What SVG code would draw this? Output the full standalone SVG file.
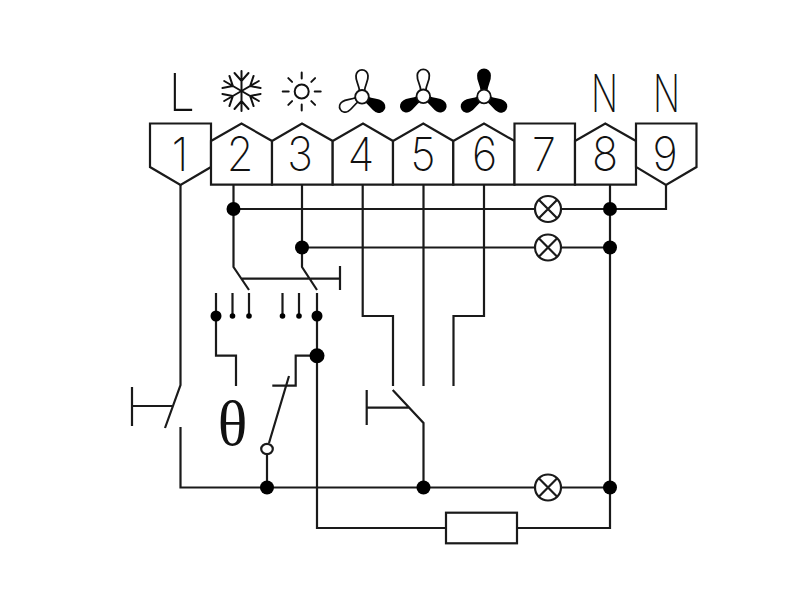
<svg xmlns="http://www.w3.org/2000/svg" xmlns:xlink="http://www.w3.org/1999/xlink" width="800" height="600" viewBox="0 0 800 600">
<style>
.w{fill:none;stroke:#1a1a1a;stroke-width:2.2;stroke-linejoin:miter}
.t{fill:#fff;stroke:#1a1a1a;stroke-width:2.2}
.d{fill:#000}
.o{fill:#fff;stroke:#1a1a1a;stroke-width:2.2}
.s{fill:none;stroke:#111;stroke-width:2;stroke-linecap:round}
.b{fill:#fff;stroke:#111;stroke-width:1.8}
.f{fill:#000;stroke:#000;stroke-width:1.8}
text{font-family:"Inter","Liberation Sans",sans-serif;font-weight:250;font-size:47px;fill:#111;text-anchor:middle}
</style>
<defs>
<path id="blade" d="M-2.5,-6C-3,-12 -6.5,-16 -6,-21A6,6 0 0 1 6,-21C6.5,-16 3,-12 2.5,-6Z"/>
<g id="arm"><path d="M0,0V-20M-7,-18L0,-10L7,-18"/></g>
<g id="lamp"><circle r="13" class="o"/><path class="w" d="M-9.2,-9.2L9.2,9.2M-9.2,9.2L9.2,-9.2"/></g>
</defs>

<g id="connectors" class="w">
<path d="M180.5,185V385L165,428M180.5,427V487.5H535M561,487.5H610M132,406H172M132,387V426"/>
<path d="M233.5,185V267L249,290M302,185V267L317,290M241,278.7H340M340,266V290"/>
<path d="M233.5,209H535M561,209H666V185M302,247.5H535M561,247.5H610"/>
<path d="M362.7,185V316H393V386M423.5,185V386M484,185V316H453.5V386"/>
<path d="M610,185V528H517M446,528H317V293"/>
<path d="M216,293V355.7H236V386M232.5,293V316M249,293V316M282.5,293V316M299,293V316"/>
<path d="M317,355.7H295.7V385.7H272.3M289,376L269,443M267,455V487.5"/>
<path d="M392.7,390L423.5,423V487.5M366.7,407.7H409M366.7,390V425"/>
</g>

<g id="junctions" class="d">
<circle cx="233.5" cy="209" r="7"/><circle cx="302" cy="247.5" r="7"/>
<circle cx="610" cy="209" r="7"/><circle cx="610" cy="247.5" r="7"/>
<circle cx="317" cy="355.7" r="7.5"/><circle cx="267" cy="487.5" r="7"/>
<circle cx="423.5" cy="487.5" r="7"/><circle cx="610" cy="487.5" r="7"/>
<circle cx="216" cy="316" r="5.5"/><circle cx="317" cy="316" r="5.5"/>
<circle cx="232.5" cy="316" r="2.8"/><circle cx="249" cy="316" r="2.8"/>
<circle cx="282.5" cy="316" r="2.8"/><circle cx="299" cy="316" r="2.8"/>
</g>

<g id="lamp1"><use xlink:href="#lamp" href="#lamp" x="548" y="209"/></g>
<g id="lamp2"><use xlink:href="#lamp" href="#lamp" x="548" y="247.5"/></g>
<g id="lamp3"><use xlink:href="#lamp" href="#lamp" x="548" y="487.5"/></g>
<g id="resistor"><rect class="o" x="446" y="512.7" width="71" height="30.6"/></g>
<g id="contact"><ellipse class="o" cx="267" cy="449" rx="5.8" ry="5.2"/></g>
<g id="theta"><text transform="translate(232.5 444.5) scale(.98 1)" style="font-family:'Liberation Serif',serif;font-weight:400;font-size:63px">θ</text></g>

<g id="term1"><path class="t" d="M150,123.5H211V167L180.5,185L150,167Z"/><text transform="translate(180 171) scale(.92 1)">1</text></g>
<g id="term2"><path class="t" d="M211,141L241.5,123.5L272,141V184.7H211Z"/><text transform="translate(240 171) scale(.92 1)">2</text></g>
<g id="term3"><path class="t" d="M272,141L302,123.5L332.7,141V184.7H272Z"/><text transform="translate(300 171) scale(.92 1)">3</text></g>
<g id="term4"><path class="t" d="M332.7,141L363,123.5L393,141V184.7H332.7Z"/><text transform="translate(361 171) scale(.92 1)">4</text></g>
<g id="term5"><path class="t" d="M393,141L423.3,123.5L453.3,141V184.7H393Z"/><text transform="translate(423 171) scale(.92 1)">5</text></g>
<g id="term6"><path class="t" d="M453.3,141L484,123.5L514.5,141V184.7H453.3Z"/><text transform="translate(484.5 171) scale(.92 1)">6</text></g>
<g id="term7"><path class="t" d="M514.5,123.5H575V184.7H514.5Z"/><text transform="translate(544 171) scale(.92 1)">7</text></g>
<g id="term8"><path class="t" d="M575,141L605.3,123.5L636,141V184.7H575Z"/><text transform="translate(605 171) scale(.92 1)">8</text></g>
<g id="term9"><path class="t" d="M636,123.5H696.5V167L666,185L636,167Z"/><text transform="translate(665 171) scale(.92 1)">9</text></g>

<g id="labelL"><text transform="translate(182 111) scale(.88 1)" style="font-size:52px">L</text></g>
<g id="labelN1"><text transform="translate(604.5 112) scale(.68 1)" style="font-size:52px">N</text></g>
<g id="labelN2"><text transform="translate(666.5 112) scale(.68 1)" style="font-size:52px">N</text></g>

<g id="snow" class="s" transform="translate(241.5 91)">
<use xlink:href="#arm" href="#arm"/><use xlink:href="#arm" href="#arm" transform="rotate(60)"/><use xlink:href="#arm" href="#arm" transform="rotate(120)"/><use xlink:href="#arm" href="#arm" transform="rotate(180)"/><use xlink:href="#arm" href="#arm" transform="rotate(240)"/><use xlink:href="#arm" href="#arm" transform="rotate(300)"/>
</g>
<g id="sun" class="s" transform="translate(301.7 91.5)">
<circle r="7" fill="none"/>
<path d="M0,-19V-13M0,19V13M-19,0H-13M19,0H13M-13.4,-13.4L-9.6,-9.6M13.4,-13.4L9.6,-9.6M-13.4,13.4L-9.6,9.6M13.4,13.4L9.6,9.6"/>
</g>
<g id="fan1" transform="translate(362 96.8)">
<use xlink:href="#blade" href="#blade" class="b"/><use xlink:href="#blade" href="#blade" class="f" transform="rotate(120) scale(.93)"/><use xlink:href="#blade" href="#blade" class="b" transform="rotate(240) scale(.93)"/>
<circle r="6.8" class="b"/></g>
<g id="fan2" transform="translate(423.3 96.3)">
<use xlink:href="#blade" href="#blade" class="b"/><use xlink:href="#blade" href="#blade" class="f" transform="rotate(120) scale(.93)"/><use xlink:href="#blade" href="#blade" class="f" transform="rotate(240) scale(.93)"/>
<circle r="6.8" class="b"/></g>
<g id="fan3" transform="translate(484 96.5)">
<use xlink:href="#blade" href="#blade" class="f"/><use xlink:href="#blade" href="#blade" class="f" transform="rotate(120) scale(.93)"/><use xlink:href="#blade" href="#blade" class="f" transform="rotate(240) scale(.93)"/>
<circle r="6.8" class="b"/></g>
</svg>
